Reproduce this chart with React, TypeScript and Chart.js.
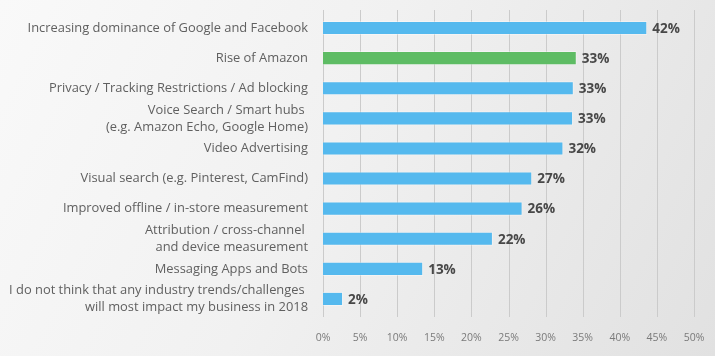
import React, { useEffect, useRef } from "react";
import { Chart, registerables } from "chart.js";

Chart.register(...registerables);

const categories: (string | string[])[] = [
  "Increasing dominance of Google and Facebook",
  "Rise of Amazon",
  "Privacy / Tracking Restrictions / Ad blocking",
  ["Voice Search / Smart hubs ", "(e.g. Amazon Echo, Google Home)"],
  "Video Advertising",
  "Visual search (e.g. Pinterest, CamFind)",
  "Improved offline / in-store measurement",
  ["Attribution / cross-channel ", "and device measurement"],
  "Messaging Apps and Bots",
  ["I do not think that any industry trends/challenges ", "will most impact my business in 2018"],
];

// bar lengths as drawn in the picture (%)
const barValues = [43.7, 34.2, 33.8, 33.7, 32.4, 28.2, 26.9, 22.9, 13.5, 2.7];
// percentages printed next to the bars
const valueLabels = ["42%", "33%", "33%", "33%", "32%", "27%", "26%", "22%", "13%", "2%"];
const barColors = [
  "#55b9ee", "#5ebc64", "#55b9ee", "#55b9ee", "#55b9ee",
  "#55b9ee", "#55b9ee", "#55b9ee", "#55b9ee", "#55b9ee",
];
const xTicks = [0, 5, 10, 15, 20, 25, 30, 35, 40, 45, 50];

const FONT = "'Open Sans', Lato, sans-serif";

export default function App() {
  const ref = useRef<HTMLCanvasElement | null>(null);

  useEffect(() => {
    document.body.style.margin = "0";
    const canvas = ref.current;
    if (!canvas) return;

    const bgPlugin = {
      id: "bg",
      beforeDraw(chart: any) {
        const { ctx, width, height } = chart;
        ctx.save();
        const g = ctx.createLinearGradient(0, 0, width, height);
        g.addColorStop(0, "#f9f9f9");
        g.addColorStop(0.45, "#f1f1f1");
        g.addColorStop(1, "#e1e1e1");
        ctx.fillStyle = g;
        ctx.fillRect(0, 0, width, height);
        ctx.restore();
      },
    };

    const gridPlugin = {
      id: "vgrid",
      beforeDatasetsDraw(chart: any) {
        const { ctx, chartArea } = chart;
        const xs = chart.scales.x;
        ctx.save();
        ctx.strokeStyle = "#cbcbcb";
        ctx.lineWidth = 1;
        xTicks.forEach((t) => {
          const px = Math.round(xs.getPixelForValue(t)) + 0.5;
          ctx.beginPath();
          ctx.moveTo(px, chartArea.top - 3);
          ctx.lineTo(px, chartArea.bottom + 3);
          ctx.stroke();
        });
        ctx.restore();
      },
    };

    const labelPlugin = {
      id: "vlabels",
      afterDatasetsDraw(chart: any) {
        const { ctx } = chart;
        const meta = chart.getDatasetMeta(0);
        ctx.save();
        ctx.font = `bold 13.5px ${FONT}`;
        ctx.fillStyle = "#484848";
        ctx.textAlign = "left";
        ctx.textBaseline = "middle";
        meta.data.forEach((bar: any, i: number) => {
          ctx.fillText(valueLabels[i], bar.x + 5, bar.y + 1);
        });
        ctx.restore();
      },
    };

    const chart = new Chart(canvas, {
      type: "bar",
      data: {
        labels: categories,
        datasets: [
          {
            data: barValues,
            backgroundColor: barColors,
            borderColor: "rgba(255,255,255,0.35)",
            borderWidth: 1,
            barPercentage: 0.47,
            categoryPercentage: 1,
          },
        ],
      },
      options: {
        indexAxis: "y",
        animation: false,
        responsive: false,
        maintainAspectRatio: false,
        layout: { padding: { top: 13, right: 21, bottom: 0, left: 0 } },
        plugins: {
          legend: { display: false },
          tooltip: { enabled: false },
        },
        scales: {
          x: {
            min: 0,
            max: 50,
            grid: { display: false, drawTicks: false },
            border: { display: false },
            afterFit: (scale: any) => {
              scale.paddingLeft = 0;
              scale.paddingRight = 0;
              scale.height = 42;
            },
            ticks: {
              stepSize: 5,
              padding: 18,
              maxRotation: 0,
              color: "#7a7a7a",
              font: { family: FONT, size: 10.5 },
              callback: (v: any) => `${v}%`,
            },
          },
          y: {
            grid: { display: false, drawTicks: false },
            border: { display: false },
            afterFit: (scale: any) => {
              scale.width = 323;
              scale.paddingTop = 0;
              scale.paddingBottom = 0;
            },
            ticks: {
              autoSkip: false,
              padding: 15,
              color: "#606060",
              font: { family: FONT, size: 12.9, lineHeight: 1.32 },
            },
          },
        },
      },
      plugins: [bgPlugin, gridPlugin, labelPlugin],
    });

    return () => chart.destroy();
  }, []);

  return <canvas ref={ref} width={715} height={356} style={{ display: "block" }} />;
}
